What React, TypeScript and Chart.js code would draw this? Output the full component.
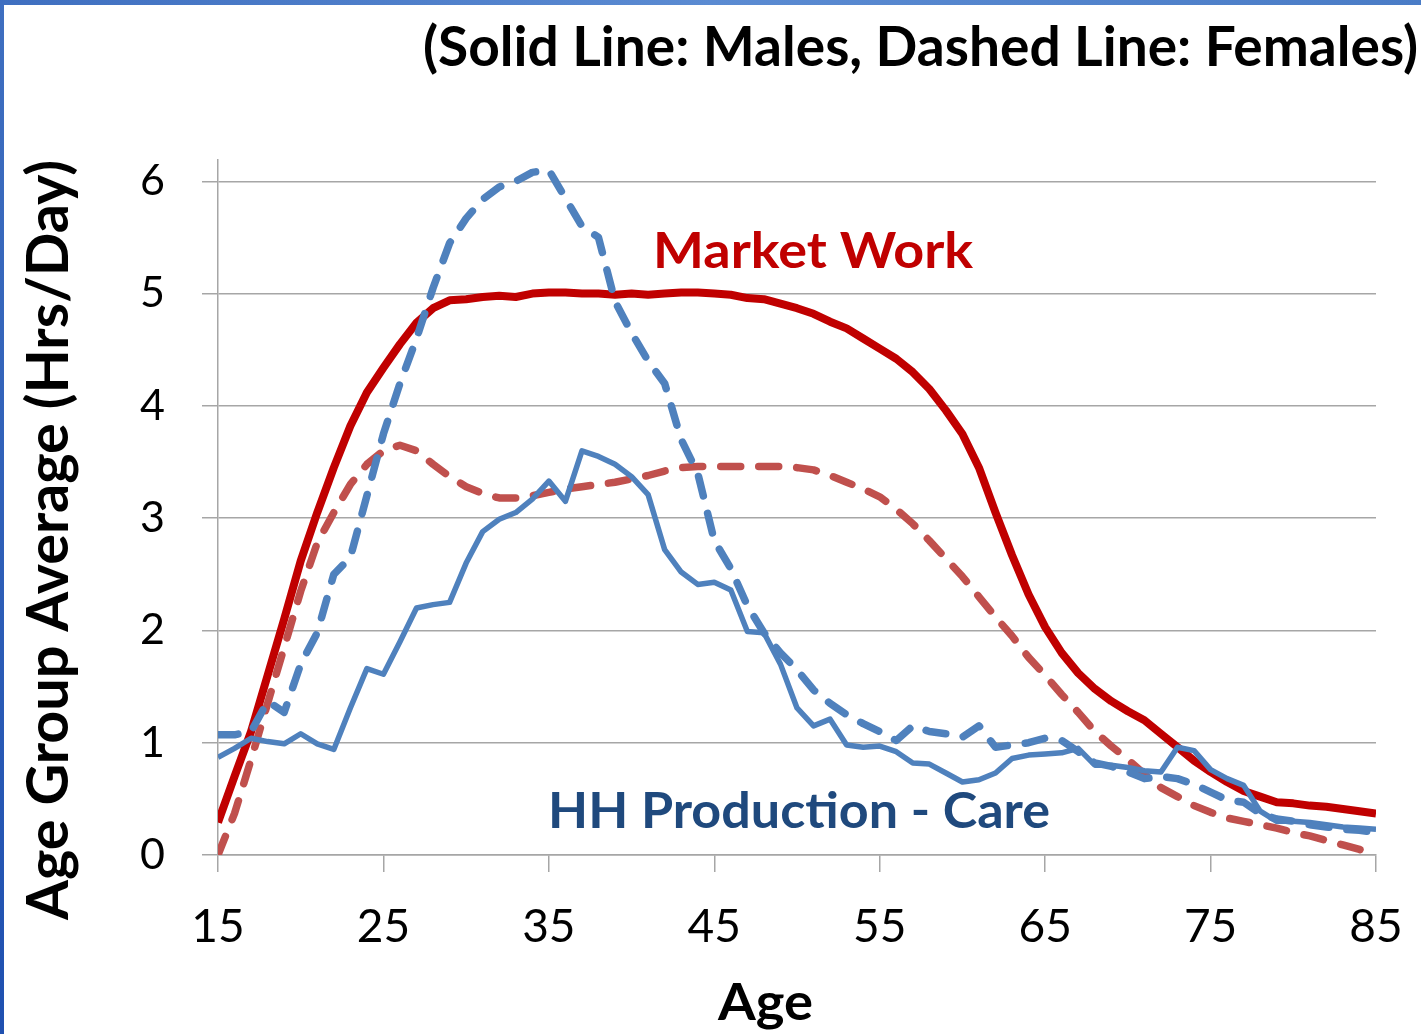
import React, { useEffect, useRef } from "react";
import { Chart, registerables } from "chart.js";

Chart.register(...registerables);

const AGES = [
  15, 16, 17, 18, 19, 20, 21, 22, 23, 24, 25, 26, 27, 28, 29, 30, 31, 32, 33, 34,
  35, 36, 37, 38, 39, 40, 41, 42, 43, 44, 45, 46, 47, 48, 49, 50, 51, 52, 53, 54,
  55, 56, 57, 58, 59, 60, 61, 62, 63, 64, 65, 66, 67, 68, 69, 70, 71, 72, 73, 74,
  75, 76, 77, 78, 79, 80, 81, 82, 83, 84, 85,
];

// Market work, males (solid red)
const MARKET_MALES = [
  0.29, 0.7, 1.1, 1.6, 2.1, 2.62, 3.05, 3.45, 3.82, 4.12, 4.34, 4.55, 4.74, 4.87, 4.94, 4.95, 4.97, 4.98, 4.97, 5.0,
  5.01, 5.01, 5.0, 5.0, 4.99, 5.0, 4.99, 5.0, 5.01, 5.01, 5.0, 4.99, 4.96, 4.95, 4.91, 4.87, 4.82, 4.75, 4.69, 4.6,
  4.51, 4.42, 4.3, 4.15, 3.96, 3.75, 3.45, 3.05, 2.67, 2.32, 2.03, 1.8, 1.62, 1.48, 1.37, 1.28, 1.2, 1.08, 0.96, 0.84,
  0.74, 0.65, 0.57, 0.52, 0.47, 0.46, 0.44, 0.43, 0.41, 0.39, 0.37,
];

// Market work, females (dashed red)
const MARKET_FEMALES = [
  0.0, 0.37, 0.85, 1.35, 1.85, 2.35, 2.78, 3.05, 3.3, 3.48, 3.6, 3.65, 3.6, 3.48, 3.37, 3.28, 3.22, 3.18, 3.18, 3.2,
  3.23, 3.26, 3.28, 3.3, 3.32, 3.35, 3.38, 3.42, 3.45, 3.46, 3.46, 3.46, 3.46, 3.46, 3.46, 3.45, 3.43, 3.38, 3.32, 3.26,
  3.19, 3.08, 2.95, 2.8, 2.64, 2.48, 2.3, 2.12, 1.95, 1.76, 1.6, 1.43, 1.27, 1.1, 0.97, 0.85, 0.72, 0.6, 0.52, 0.44,
  0.38, 0.33, 0.3, 0.27, 0.24, 0.2, 0.17, 0.13, 0.09, 0.05, 0.0,
];

// HH production - care, males (solid blue)
const CARE_MALES = [
  0.87, 0.95, 1.04, 1.01, 0.99, 1.08, 0.99, 0.94, 1.31, 1.66, 1.61, 1.9, 2.2, 2.23, 2.25, 2.6, 2.88, 2.99, 3.05, 3.17,
  3.33, 3.15, 3.6, 3.55, 3.48, 3.37, 3.21, 2.72, 2.52, 2.41, 2.43, 2.36, 1.99, 1.98, 1.7, 1.31, 1.15, 1.21, 0.98, 0.96,
  0.97, 0.92, 0.82, 0.81, 0.73, 0.65, 0.67, 0.73, 0.86, 0.89, 0.9, 0.91, 0.95, 0.8, 0.8, 0.78, 0.75, 0.74, 0.96, 0.93,
  0.76, 0.68, 0.62, 0.39, 0.3, 0.3, 0.29, 0.27, 0.25, 0.24, 0.23,
];

// HH production - care, females (dashed blue)
const CARE_FEMALES = [
  1.07, 1.07, 1.1, 1.37, 1.27, 1.7, 1.98, 2.5, 2.65, 3.2, 3.75, 4.2, 4.6, 5.05, 5.45, 5.67, 5.84, 5.95, 6.0, 6.08,
  6.1, 5.85, 5.6, 5.5, 4.93, 4.65, 4.4, 4.2, 3.7, 3.4, 2.8, 2.55, 2.22, 1.98, 1.8, 1.65, 1.47, 1.35, 1.25, 1.17,
  1.1, 1.02, 1.15, 1.1, 1.08, 1.05, 1.15, 0.96, 0.98, 1.0, 1.04, 1.02, 0.92, 0.82, 0.79, 0.74, 0.68, 0.7, 0.68, 0.63,
  0.56, 0.49, 0.47, 0.37, 0.32, 0.3, 0.27, 0.25, 0.23, 0.22, 0.2,
];

const TITLE = "(Solid Line: Males, Dashed Line: Females)";
const Y_TITLE = "Age Group Average (Hrs/Day)";
const X_TITLE = "Age";
const LABEL_MARKET = "Market Work";
const LABEL_CARE = "HH Production - Care";

// annotation anchors in data units (left edge age, baseline value)
const MARKET_LABEL_AT = { age: 41.3, value: 5.23 };
const CARE_LABEL_AT = { age: 34.95, value: 0.24 };

const FONT = "Lato, 'Open Sans', sans-serif";

function drawFit(
  ctx: CanvasRenderingContext2D,
  text: string,
  size: number,
  color: string,
  x: number,
  y: number,
  targetW: number,
  rotate = false
) {
  ctx.save();
  ctx.font = `bold ${size}px ${FONT}`;
  const w = ctx.measureText(text).width;
  const sx = targetW / w;
  ctx.translate(x, y);
  if (rotate) ctx.rotate(-Math.PI / 2);
  ctx.scale(sx, 1);
  ctx.fillStyle = color;
  ctx.textAlign = "left";
  ctx.textBaseline = "alphabetic";
  ctx.fillText(text, 0, 0);
  ctx.restore();
}

const textPlugin = {
  id: "texts",
  afterDraw(chart: any) {
    const ctx = chart.ctx as CanvasRenderingContext2D;
    const xs = chart.scales.x;
    const ys = chart.scales.y;
    drawFit(ctx, TITLE, 55, "#000000", 423, 66, 995);
    drawFit(ctx, Y_TITLE, 57, "#000000", 68, 920, 760, true);
    drawFit(ctx, X_TITLE, 52, "#000000", 718, 1020, 95);
    drawFit(
      ctx,
      LABEL_MARKET,
      50,
      "#C00000",
      xs.getPixelForValue(MARKET_LABEL_AT.age),
      ys.getPixelForValue(MARKET_LABEL_AT.value),
      320
    );
    drawFit(
      ctx,
      LABEL_CARE,
      50,
      "#1F497D",
      xs.getPixelForValue(CARE_LABEL_AT.age),
      ys.getPixelForValue(CARE_LABEL_AT.value),
      502
    );
  },
};

function toPoints(vals: number[]) {
  return AGES.map((a, i) => ({ x: a, y: vals[i] }));
}

export default function App() {
  const ref = useRef<HTMLCanvasElement | null>(null);

  useEffect(() => {
    if (!ref.current) return;
    const chart = new Chart(ref.current, {
      type: "line",
      data: {
        datasets: [
          {
            label: "HH Production - Care (Females)",
            data: toPoints(CARE_FEMALES),
            borderColor: "#4F81BD",
            borderWidth: 7.5,
            borderDash: [20, 18],
            borderCapStyle: "round",
            borderJoinStyle: "round",
            pointRadius: 0,
            tension: 0,
          },
          {
            label: "HH Production - Care (Males)",
            data: toPoints(CARE_MALES),
            borderColor: "#4F81BD",
            borderWidth: 5.5,
            borderJoinStyle: "round",
            pointRadius: 0,
            tension: 0,
          },
          {
            label: "Market Work (Females)",
            data: toPoints(MARKET_FEMALES),
            borderColor: "#C0504D",
            borderWidth: 7.5,
            borderDash: [20, 18],
            borderCapStyle: "round",
            borderJoinStyle: "round",
            pointRadius: 0,
            tension: 0,
          },
          {
            label: "Market Work (Males)",
            data: toPoints(MARKET_MALES),
            borderColor: "#C00000",
            borderWidth: 8,
            borderJoinStyle: "round",
            pointRadius: 0,
            tension: 0,
          },
        ],
      },
      options: {
        animation: false,
        responsive: false,
        maintainAspectRatio: false,
        layout: { padding: { top: 160, right: 45, left: 0, bottom: 0 } },
        plugins: {
          legend: { display: false },
          tooltip: { enabled: false },
          title: { display: false },
        },
        scales: {
          x: {
            type: "linear",
            min: 15,
            max: 85,
            afterFit: (s: any) => {
              s.height = 179;
              s.paddingLeft = 0;
              s.paddingRight = 0;
            },
            ticks: {
              stepSize: 10,
              color: "#000000",
              padding: 28,
              font: { family: FONT, size: 46 },
            },
            grid: {
              drawOnChartArea: false,
              drawTicks: true,
              tickLength: 17,
              color: "#A6A6A6",
              lineWidth: 1.5,
            },
            border: { display: true, color: "#A6A6A6", width: 1.5 },
          },
          y: {
            type: "linear",
            min: 0,
            max: 6.19,
            afterFit: (s: any) => {
              s.width = 218;
              s.paddingTop = 0;
              s.paddingBottom = 0;
            },
            ticks: {
              stepSize: 1,
              includeBounds: false,
              color: "#000000",
              padding: 37,
              font: { family: FONT, size: 43 },
            },
            grid: {
              drawTicks: true,
              tickLength: 16,
              color: "#A6A6A6",
              lineWidth: 1.5,
            },
            border: { display: true, color: "#A6A6A6", width: 1.5 },
          },
        },
      },
      plugins: [textPlugin],
    });
    return () => chart.destroy();
  }, []);

  return (
    <div
      style={{
        position: "fixed",
        left: 0,
        top: 0,
        width: 1421,
        height: 1034,
        background: "#ffffff",
        overflow: "hidden",
      }}
    >
      <div
        style={{
          position: "absolute",
          left: 0,
          top: 0,
          width: 1421,
          height: 5,
          background: "linear-gradient(90deg, #3f6fc0, #5b8bd2 50%, #4a7cc6)",
        }}
      />
      <div
        style={{
          position: "absolute",
          left: 0,
          top: 0,
          width: 4,
          height: 1034,
          background: "linear-gradient(180deg, #3f6fc0, #1f50b0)",
        }}
      />
      <canvas
        ref={ref}
        width={1421}
        height={1034}
        style={{ position: "absolute", left: 0, top: 0, width: 1421, height: 1034 }}
      />
    </div>
  );
}
